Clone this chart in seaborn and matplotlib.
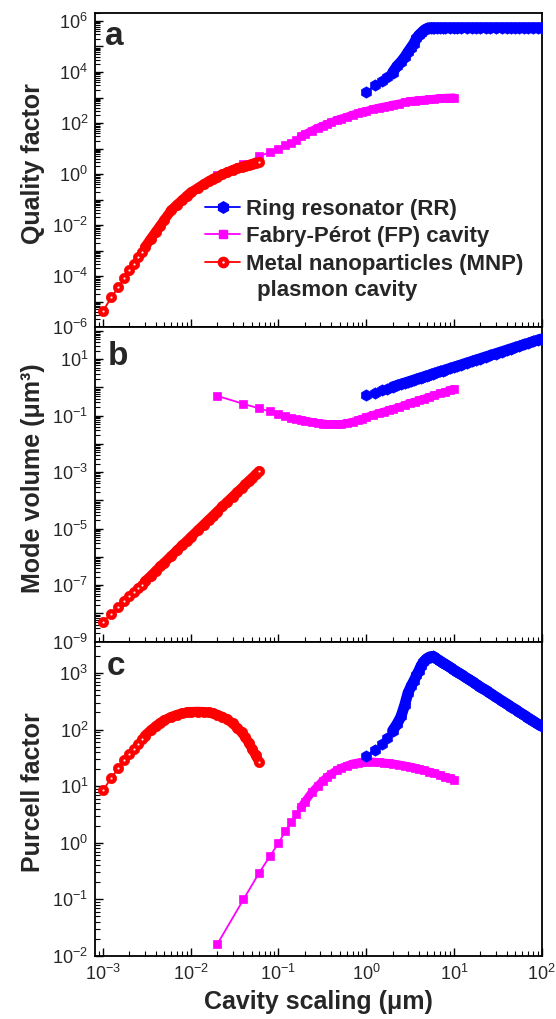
import numpy as np
import matplotlib
matplotlib.use("Agg")
import matplotlib.pyplot as plt
from matplotlib.ticker import LogLocator, FuncFormatter, NullFormatter
from matplotlib.lines import Line2D
import seaborn as sns

# ---------------- data ----------------
# Metal nanoparticle (MNP) plasmon cavity, x in micrometres
x_mnp = [0.001, 0.00125, 0.0015, 0.00175, 0.002, 0.00225, 0.0025, 0.00275, 0.003,
         0.0035, 0.004, 0.0045, 0.005, 0.006, 0.007, 0.008, 0.009, 0.010, 0.012,
         0.014, 0.016, 0.018, 0.020, 0.023, 0.026, 0.030, 0.034, 0.038, 0.042,
         0.046, 0.050, 0.055, 0.060]
q_mnp = [4.3e-6, 1.5e-5, 3.7e-5, 8.1e-5, 1.7e-4, 3.1e-4, 5.4e-4, 8.8e-4, 1.35e-3,
         2.9e-3, 5.5e-3, 9.5e-3, 1.6e-2, 3.8e-2, 6.4e-2, 9.5e-2, 0.14, 0.19, 0.28,
         0.40, 0.52, 0.66, 0.78, 0.97, 1.17, 1.45, 1.70, 1.93, 2.12,
         2.32, 2.52, 2.75, 2.95]
v_mnp = [5.0e-9, 9.8e-9, 1.7e-8, 2.7e-8, 4.0e-8, 5.7e-8, 7.8e-8, 1.04e-7, 1.35e-7,
         2.1e-7, 3.2e-7, 4.6e-7, 6.2e-7, 1.08e-6, 1.7e-6, 2.6e-6, 3.6e-6, 5.0e-6, 8.6e-6,
         1.37e-5, 2.05e-5, 2.9e-5, 4.0e-5, 6.1e-5, 8.8e-5, 1.35e-4, 1.97e-4, 2.7e-4, 3.7e-4,
         4.9e-4, 6.2e-4, 8.3e-4, 1.08e-3]
f_mnp = [8.5, 14, 21, 29, 37, 46, 55, 68, 78,
         97, 115, 132, 146, 168, 183, 194, 201, 205, 207,
         205, 200, 193, 184, 168, 151, 128, 107, 89, 73,
         58, 46, 35, 27]

# Fabry-Perot (FP) cavity
x_fp = [0.02, 0.04, 0.06, 0.08, 0.10, 0.12, 0.14, 0.16, 0.18, 0.20, 0.24, 0.28, 0.32,
        0.36, 0.40, 0.46, 0.52, 0.60, 0.70, 0.80, 0.90, 1.0, 1.2, 1.4, 1.6, 1.8, 2.0,
        2.4, 2.8, 3.2, 3.6, 4.0, 4.6, 5.2, 6.0, 7.0, 8.0, 9.0, 10.0]
q_fp = [0.9, 2.4, 5.0, 7.2, 10, 13.5, 17, 22, 30, 36, 50, 65, 78,
        92, 105, 130, 150, 175, 210, 240, 270, 295, 355, 400, 440, 475, 520,
        580, 660, 720, 750, 780, 810, 840, 890, 935, 965, 985, 1000]
v_fp = [0.50, 0.26, 0.18, 0.14, 0.11, 0.095, 0.085, 0.077, 0.071, 0.066, 0.059, 0.055, 0.052,
        0.050, 0.049, 0.049, 0.050, 0.054, 0.060, 0.068, 0.077, 0.088, 0.105, 0.122, 0.138,
        0.155, 0.17, 0.20, 0.24, 0.28, 0.31, 0.35, 0.40, 0.45, 0.52, 0.61, 0.69, 0.78, 0.86]
f_fp = [0.016, 0.10, 0.29, 0.58, 0.98, 1.6, 2.35, 3.2, 4.2, 5.3, 7.8, 10, 12.5,
        14.5, 16.5, 19, 21, 23, 25, 26, 26.5, 27, 27, 26.5, 26, 25.5, 25,
        24, 23, 22, 21, 20, 19, 18, 17, 15.5, 14.5, 13.8, 13]

# Ring resonator (RR)
x_rr = [1.0, 1.25, 1.5, 1.75, 2.0, 2.25, 2.5, 2.75, 3.0, 3.25, 3.5, 3.75, 4.0, 4.25,
        4.5, 4.75, 5.0, 5.25, 5.5, 5.75, 6.0, 6.5, 7.0, 7.5, 8.0, 9.0, 10, 11, 12, 14,
        16, 18, 20, 23, 26, 30, 35, 40, 45, 50, 56, 63, 70, 80, 90, 100]
q_rr = [1.6e3, 3.0e3, 4.6e3, 6.3e3, 9.5e3, 1.7e4, 2.5e4, 3.8e4, 6.0e4, 9.0e4, 1.3e5, 2.1e5,
        2.8e5, 3.4e5, 4.1e5, 4.7e5, 5.1e5, 5.4e5, 5.5e5, 5.5e5, 5.5e5, 5.5e5, 5.5e5, 5.5e5,
        5.5e5, 5.5e5, 5.5e5, 5.5e5, 5.5e5, 5.5e5, 5.5e5, 5.5e5, 5.5e5, 5.5e5, 5.5e5, 5.5e5,
        5.5e5, 5.5e5, 5.5e5, 5.5e5, 5.5e5, 5.5e5, 5.5e5, 5.5e5, 5.5e5, 5.5e5]
v_rr = [0.52, 0.65, 0.78, 0.91, 1.04, 1.17, 1.3, 1.43, 1.56, 1.69, 1.82, 1.95, 2.08, 2.2,
        2.34, 2.47, 2.6, 2.73, 2.86, 2.99, 3.12, 3.38, 3.64, 3.9, 4.16, 4.68, 5.2, 5.7, 6.2,
        7.3, 8.3, 9.4, 10.4, 12, 13.5, 15.6, 18.2, 20.8, 23.4, 26, 29, 33, 36, 42, 47, 52]
f_rr = [34, 44, 56, 70, 95, 125, 170, 270, 440, 580, 720, 900, 1100, 1350,
        1550, 1700, 1820, 1900, 1940, 1950, 1890, 1740, 1620, 1510, 1420, 1260, 1130, 1030,
        945, 810, 710, 630, 567, 493, 436, 378, 324, 284, 252, 227, 202, 180, 162, 142, 126, 114]

labels = ["Ring resonator (RR)", "Fabry-Pérot (FP) cavity", "Metal nanoparticles (MNP)"]
extra_label = " plasmon cavity"
y_titles = ["Quality factor", "Mode volume (μm³)", "Purcell factor"]
panel_letters = ["a", "b", "c"]
x_title = "Cavity scaling (μm)"

# ---------------- styling ----------------
sns.set_style("ticks")
plt.rcParams["font.family"] = ["Liberation Sans", "DejaVu Sans"]
plt.rcParams["mathtext.fontset"] = "custom"
plt.rcParams["mathtext.rm"] = "Liberation Sans"
plt.rcParams["axes.unicode_minus"] = False

BLUE = "#0000ff"
MAG = "#ff00ff"
RED = "#ff0000"
MS_RR, MS_FP, MS_MNP = 8.2, 6.2, 7.4
# index where the sampled points become so dense that the markers merge into a band
DENSE_RR, DENSE_FP, DENSE_MNP = 4, 8, 8

fig, axes = plt.subplots(3, 1, figsize=(5.56, 10.19), dpi=100, sharex=True)
fig.subplots_adjust(left=0.171, right=0.974, top=0.9875, bottom=0.0618, hspace=0)

ylims = [(1e-6, 2.1e6), (1e-9, 1.35e2), (1e-2, 3.57e3)]
label_exps = [set(range(-6, 7, 2)), set(range(-9, 2, 2)), set(range(-2, 4))]
letter_pos = [(0.022, 0.897), (0.029, 0.880), (0.026, 0.894)]
series = [(q_fp, q_rr, q_mnp), (v_fp, v_rr, v_mnp), (f_fp, f_rr, f_mnp)]


def make_fmt(exps):
    def f(v, pos):
        e = int(round(np.log10(v)))
        if abs(np.log10(v) - e) < 1e-6 and e in exps:
            return r"$\mathdefault{10^{%d}}$" % e
        return ""
    return FuncFormatter(f)


def draw_series(ax, x, y, color, marker, ms, dense, z):
    # merged band of densely packed markers
    sns.lineplot(x=x[dense:], y=y[dense:], ax=ax, color=color, linewidth=ms * 0.95,
                 sort=False, estimator=None, legend=False, zorder=z,
                 solid_capstyle="round", solid_joinstyle="round")
    # thin connecting line with the individual markers
    sns.lineplot(x=x, y=y, ax=ax, color=color, marker=marker, markersize=ms,
                 markeredgecolor=color, markeredgewidth=0.5, linewidth=1.3,
                 sort=False, estimator=None, legend=False, zorder=z + 0.1)


for i, ax in enumerate(axes):
    ax.set_xscale("log")
    ax.set_yscale("log")
    yfp, yrr, ymnp = series[i]
    draw_series(ax, x_fp, yfp, MAG, "s", MS_FP, DENSE_FP, 3)
    draw_series(ax, x_rr, yrr, BLUE, "h", MS_RR, DENSE_RR, 4)
    draw_series(ax, x_mnp, ymnp, RED, "o", MS_MNP, DENSE_MNP, 5)
    # white glints of the separated spheres and of the last one
    gx = x_mnp[:DENSE_MNP] + [x_mnp[-1]]
    gy = ymnp[:DENSE_MNP] + [ymnp[-1]]
    ax.scatter(gx, gy, s=2.5, color="#ffe8e8", linewidths=0, zorder=6)

    ax.set_xlim(10 ** -3.09, 1e2)
    ax.set_ylim(*ylims[i])
    ax.yaxis.set_major_locator(LogLocator(base=10, numticks=100))
    ax.yaxis.set_minor_locator(LogLocator(base=10, subs=np.arange(2, 10), numticks=100))
    ax.yaxis.set_major_formatter(make_fmt(label_exps[i]))
    ax.yaxis.set_minor_formatter(NullFormatter())
    ax.xaxis.set_major_locator(LogLocator(base=10, numticks=100))
    ax.xaxis.set_minor_locator(LogLocator(base=10, subs=np.arange(2, 10), numticks=100))
    ax.xaxis.set_major_formatter(make_fmt(set(range(-3, 3))))
    ax.xaxis.set_minor_formatter(NullFormatter())
    ax.tick_params(axis="both", which="major", direction="in", length=6, width=1.0,
                   labelsize=13, top=False, right=False, color="black")
    ax.tick_params(axis="y", which="major", pad=5)
    ax.tick_params(axis="x", which="major", pad=6)
    ax.tick_params(axis="both", which="minor", direction="in", length=3.5, width=0.8,
                   top=False, right=False, color="black")
    for sp in ax.spines.values():
        sp.set_linewidth(1.3)
        sp.set_color("black")
        sp.set_visible(True)
    ax.set_ylabel(y_titles[i], fontsize=18, fontweight="bold")
    ax.yaxis.set_label_coords(-0.113, 0.52)
    ax.set_xlabel("")
    ax.text(letter_pos[i][0], letter_pos[i][1], panel_letters[i], transform=ax.transAxes,
            fontsize=24, fontweight="bold", va="baseline", ha="left")

axes[2].set_xlabel(x_title, fontsize=18, fontweight="bold")

# legend in panel a
h_rr = Line2D([], [], color=BLUE, marker="h", markersize=MS_RR, markeredgecolor=BLUE, linewidth=1.3)
h_fp = Line2D([], [], color=MAG, marker="s", markersize=MS_FP, markeredgecolor=MAG, linewidth=1.3)
h_mb = Line2D([], [], color=RED, marker="o", markersize=MS_MNP, markeredgecolor=RED, linewidth=1.3)
h_mg = Line2D([], [], color="#ffe8e8", marker="o", markersize=1.8, markeredgewidth=0, linestyle="none")
axes[0].legend([h_rr, h_fp, (h_mb, h_mg)], labels, loc="upper left",
               bbox_to_anchor=(0.246, 0.409), frameon=False, borderpad=0, borderaxespad=0,
               handlelength=1.6, handletextpad=0.25, labelspacing=0.3,
               prop={"weight": "bold", "size": 16})
axes[0].text(0.349, 0.0996, extra_label, transform=axes[0].transAxes, fontsize=16,
             fontweight="bold", va="baseline", ha="left")

fig.savefig("out.png", dpi=100)
